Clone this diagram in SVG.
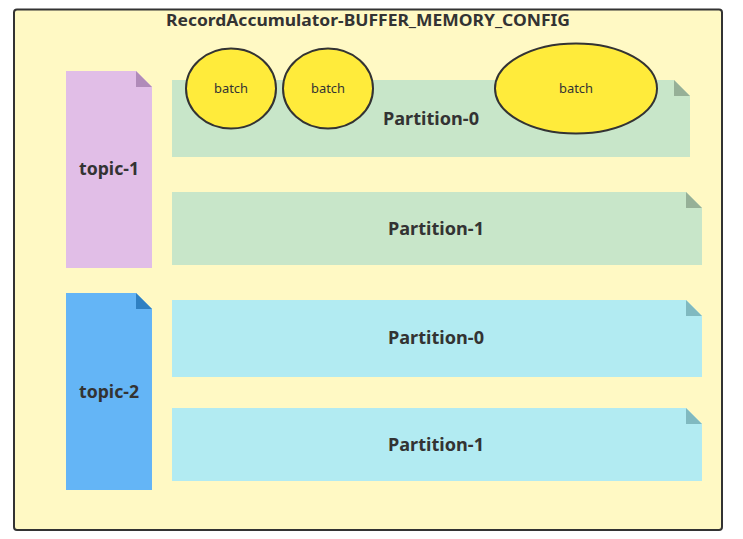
<svg xmlns="http://www.w3.org/2000/svg" width="743" height="539" viewBox="0 0 743 539">
<style>
.lbl{font-family:"Noto Sans","Open Sans","Liberation Sans",sans-serif;fill:#333;text-anchor:middle}
.big{font-size:18px;font-weight:bold}
.title{font-size:16.5px;font-weight:bold}
.small{font-size:12.5px}
.batch{fill:#FFEB3B;stroke:#333;stroke-width:2}
.green{fill:#C8E6C9}.greenf{fill:#96B097}
.cyan{fill:#B2EBF2}.cyanf{fill:#80B9C0}
</style>
<rect width="743" height="539" fill="#fff"/>
<g id="frame">
<rect x="14" y="9.5" width="708" height="520.5" rx="3" fill="#FFF9C4" stroke="#333" stroke-width="2"/>
<text class="lbl title" x="368" y="26" textLength="404" lengthAdjust="spacingAndGlyphs">RecordAccumulator-BUFFER_MEMORY_CONFIG</text>
</g>
<g id="topic1">
<path d="M66 71H136L152 87V268H66Z" fill="#E1BEE7"/>
<path d="M136 71L152 87H136Z" fill="#B08BB9"/>
<text class="lbl big" x="109" y="175" textLength="60" lengthAdjust="spacingAndGlyphs">topic-1</text>
</g>
<g id="t1p0">
<path d="M172 80H674L690 96V157H172Z" class="green"/>
<path d="M674 80L690 96H674Z" class="greenf"/>
<text class="lbl big" x="431" y="125" textLength="96" lengthAdjust="spacingAndGlyphs">Partition-0</text>
</g>
<g id="t1p1">
<path d="M172 192H686L702 208V265H172Z" class="green"/>
<path d="M686 192L702 208H686Z" class="greenf"/>
<text class="lbl big" x="436" y="235" textLength="96" lengthAdjust="spacingAndGlyphs">Partition-1</text>
</g>
<g id="topic2">
<path d="M66 293H136L152 309V490H66Z" fill="#64B5F6"/>
<path d="M136 293L152 309H136Z" fill="#2F80C2"/>
<text class="lbl big" x="109" y="398" textLength="60" lengthAdjust="spacingAndGlyphs">topic-2</text>
</g>
<g id="t2p0">
<path d="M172 300H686L702 316V377H172Z" class="cyan"/>
<path d="M686 300L702 316H686Z" class="cyanf"/>
<text class="lbl big" x="436" y="344" textLength="96" lengthAdjust="spacingAndGlyphs">Partition-0</text>
</g>
<g id="t2p1">
<path d="M172 408H686L702 424V481H172Z" class="cyan"/>
<path d="M686 408L702 424H686Z" class="cyanf"/>
<text class="lbl big" x="436" y="451" textLength="96" lengthAdjust="spacingAndGlyphs">Partition-1</text>
</g>
<g id="batch1">
<ellipse class="batch" cx="231" cy="88.5" rx="45" ry="40"/>
<text class="lbl small" x="231" y="93" textLength="34" lengthAdjust="spacingAndGlyphs">batch</text>
</g>
<g id="batch2">
<ellipse class="batch" cx="328" cy="88.5" rx="45" ry="40"/>
<text class="lbl small" x="328" y="93" textLength="34" lengthAdjust="spacingAndGlyphs">batch</text>
</g>
<g id="batch3">
<ellipse class="batch" cx="576" cy="88.5" rx="81" ry="45"/>
<text class="lbl small" x="576" y="93" textLength="34" lengthAdjust="spacingAndGlyphs">batch</text>
</g>
<g id="connectors"></g>
</svg>
